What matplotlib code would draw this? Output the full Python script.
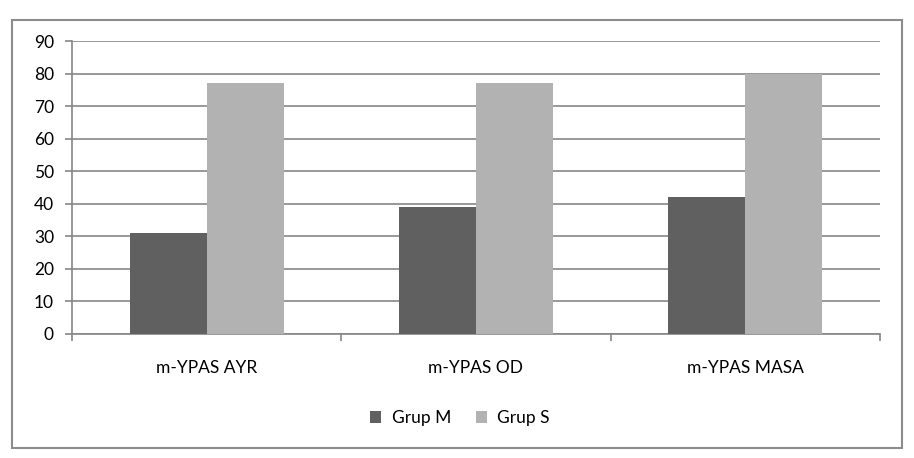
import matplotlib
matplotlib.use("Agg")
import matplotlib.pyplot as plt
import numpy as np
from matplotlib.patches import Rectangle

categories = ["m-YPAS AYR", "m-YPAS OD", "m-YPAS MASA"]
series_names = ["Grup M", "Grup S"]
grup_m = [31, 39, 42]
grup_s = [77, 77, 80]
yticks = [0, 10, 20, 30, 40, 50, 60, 70, 80, 90]

plt.rcParams['font.family'] = ['Lato', 'DejaVu Sans']

W, H = 914, 458
fig = plt.figure(figsize=(W / 100, H / 100), dpi=100)
fig.patch.set_facecolor("white")

# outer border
fig.patches.append(Rectangle((12 / W, 1 - 448 / H), (902 - 12) / W, (448 - 20) / H,
                             transform=fig.transFigure, fill=False,
                             edgecolor="#8c8c8c", linewidth=1.5))

ax = fig.add_axes([72 / W, 1 - 334 / H, (880 - 72) / W, (334 - 41) / H])

x = np.arange(len(categories))
bw = 0.286
ax.bar(x - bw / 2, grup_m, width=bw, color="#606060", label=series_names[0], zorder=3)
ax.bar(x + bw / 2, grup_s, width=bw, color="#b2b2b2", label=series_names[1], zorder=3)

fs = 12.5
ax.set_xlim(-0.5, len(categories) - 0.5)
ax.set_ylim(0, 90)
ax.set_yticks(yticks)
ax.set_yticklabels([str(v) for v in yticks], fontsize=fs)
ax.yaxis.grid(True, color="#868686", linewidth=1.2, zorder=0)
ax.set_axisbelow(True)

ax.set_xticks(np.arange(-0.5, len(categories), 1.0), minor=False)
ax.set_xticklabels([])
ax.set_xticks(x, minor=True)
ax.set_xticklabels(categories, minor=True, fontsize=fs)
ax.tick_params(axis="x", which="major", length=5, color="#868686", width=1.2)
ax.tick_params(axis="x", which="minor", length=0, pad=19)
ax.tick_params(axis="y", length=5, color="#868686", width=1.2, pad=8)

for s in ["top", "right"]:
    ax.spines[s].set_visible(False)
ax.spines["left"].set_color("#868686")
ax.spines["bottom"].set_color("#868686")
ax.spines["left"].set_linewidth(1.2)
ax.spines["bottom"].set_linewidth(1.2)

leg = fig.legend(loc="center", bbox_to_anchor=(460 / W, 1 - 418 / H), ncol=2,
                 frameon=False, fontsize=fs, handlelength=0.65, handleheight=0.65,
                 handletextpad=0.6, columnspacing=1.4)

fig.savefig("out.png", dpi=100)
